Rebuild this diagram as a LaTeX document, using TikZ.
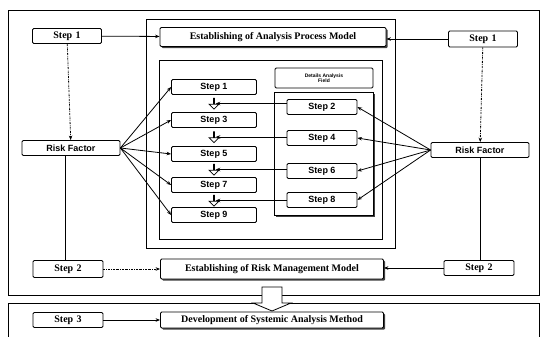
\documentclass[tikz,border=0pt]{standalone}
\usepackage{fontspec}
\setmainfont{Liberation Serif}
\newfontfamily\arialf{Liberation Sans}
\usetikzlibrary{shapes.arrows,shadows,arrows.meta}
\begin{document}
\begin{tikzpicture}[x=1pt,y=-1pt,
  every path/.style={line width=0.8pt},
  outbox/.style={draw,fill=white,rounded corners=1.2pt,inner sep=0pt,font=\bfseries\fontsize{10}{11}\selectfont},
  shbox/.style={outbox,drop shadow={shadow xshift=1.6pt,shadow yshift=-1.6pt,fill=black!75,opacity=1}},
  instep/.style={draw,fill=white,rounded corners=1.2pt,inner sep=0pt,minimum height=15pt,font=\arialf\bfseries\fontsize{9}{10}\selectfont},
  rbox/.style={instep,minimum width=98pt,minimum height=15pt},
  smallarr/.style={single arrow,draw,fill=white,shape border rotate=270,inner sep=0pt,minimum width=10pt,minimum height=11pt,single arrow head extend=4pt,single arrow head indent=0pt,line width=0.7pt},
  arr/.style={-{Stealth[length=4.5pt,width=3.5pt]}},
  dsh/.style={arr,dash pattern=on 2pt off 1pt on 0.6pt off 1pt}]
\useasboundingbox (0,0) rectangle (542,337);
% outer frames
\draw (8,10) rectangle (539,295);
\draw (8,337) -- (8,303) -- (539,303) -- (539,337);
\draw (146,19) rectangle (395,248);
\draw (159,60) rectangle (382,239);
% block arrow between frames
\draw[fill=white] (262,287) -- (282,287) -- (282,303) -- (291,303) -- (272,311) -- (253,303) -- (262,303) -- cycle;
% top row
\node[outbox,minimum width=69pt,minimum height=15pt] (s1L) at (67,36) {Step\,\,1};
\node[shbox,minimum width=226pt,minimum height=19pt] (apm) at (273,37) {Establishing of Analysis Process Model};
\node[outbox,minimum width=69pt,minimum height=16pt] (s1R) at (483,39) {Step\,\,1};
% risk factors
\node[rbox] (rfL) at (71,148) {Risk Factor};
\node[rbox] (rfR) at (480,150) {Risk Factor};
% bottom rows
\node[outbox,minimum width=70pt,minimum height=17pt] (s2L) at (68,269) {Step\,\,2};
\node[shbox,minimum width=223pt,minimum height=20pt] (rmm) at (272,269) {Establishing of Risk Management Model};
\node[outbox,minimum width=70pt,minimum height=15pt] (s2R) at (479,268) {Step\,\,2};
\node[outbox,minimum width=70pt,minimum height=15pt] (s3) at (68,320) {Step\,\,3};
\node[shbox,minimum width=223pt,minimum height=16pt] (dev) at (272,320) {Development of Systemic Analysis Method};
% details field
\node[draw,rounded corners=1.2pt,minimum width=98pt,minimum height=20pt,inner sep=0pt,align=center,font=\arialf\bfseries\fontsize{5}{5.5}\selectfont] (det) at (324,78) {Details Analysis\\Field};
\node[draw,fill=white,minimum width=99pt,minimum height=123pt,inner sep=0pt,drop shadow={shadow xshift=1.6pt,shadow yshift=-1.6pt,fill=black!75,opacity=1}] (sub) at (323.5,153.5) {};
% left steps
\node[instep,minimum width=85pt] (L1) at (214,87) {Step 1};
\node[instep,minimum width=85pt] (L3) at (214,120) {Step 3};
\node[instep,minimum width=85pt] (L5) at (214,154) {Step 5};
\node[instep,minimum width=85pt] (L7) at (214,185) {Step 7};
\node[instep,minimum width=85pt] (L9) at (214,215) {Step 9};
% right steps
\node[instep,minimum width=70pt] (R2) at (322,107) {Step 2};
\node[instep,minimum width=70pt] (R4) at (322,138) {Step 4};
\node[instep,minimum width=70pt] (R6) at (322,171) {Step 6};
\node[instep,minimum width=70pt] (R8) at (322,200) {Step 8};
% small arrows
\node[smallarr] (a1) at (214,103.5) {};
\node[smallarr] (a2) at (214,137) {};
\node[smallarr] (a3) at (214,169.5) {};
\node[smallarr] (a4) at (214,200.5) {};
% connectors
\draw[arr] (s1L) -- (apm);
\draw[arr] (s1R.west) -- (apm.east |- s1R.west);
\draw[dsh] (s1L) -- (rfL);
\draw[dsh] (s1R) -- (rfR);
\foreach \t in {L1,L3,L5,L7,L9} \draw[arr] (rfL.east) -- (\t.west);
\foreach \t in {R2,R4,R6,R8} \draw[arr] (rfR.west) -- (\t.east);
\draw[arr] (R2.west |- a1) -- ([xshift=1pt]a1.east);
\draw[arr] (R4.west |- a2) -- ([xshift=1pt]a2.east);
\draw[arr] (R6.west |- a3) -- ([xshift=1pt]a3.east);
\draw[arr] (R8.west |- a4) -- ([xshift=1pt]a4.east);
\draw ([xshift=-6pt]rfL.south) -- ([xshift=-6pt]rfL.south |- s2L.north);
\draw (rfR.south) -- (rfR.south |- s2R.north);
\draw[dsh] (s2L) -- (rmm);
\draw[arr] (s2R.west) -- (rmm.east |- s2R.west);
\draw[arr] (s3) -- (dev);
\end{tikzpicture}
\end{document}
